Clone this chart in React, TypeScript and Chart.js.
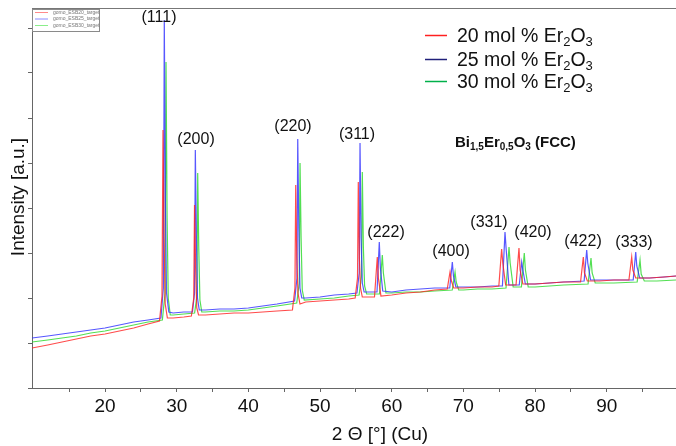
import React, { useEffect, useRef } from "react";
import { Chart, registerables } from "chart.js";

Chart.register(...registerables);

const FONT = '"Liberation Sans", Arial, Helvetica, sans-serif';

// Axis ranges (2θ in degrees, intensity in arbitrary units)
const X_MIN = 9.81;
const X_MAX = 99.67;
const Y_MIN = 0;
const Y_MAX = 380;
const xTickValues = [15, 20, 25, 30, 35, 40, 45, 50, 55, 60, 65, 70, 75, 80, 85, 90, 95];
const xTickLabels = ["", "20", "", "30", "", "40", "", "50", "", "60", "", "70", "", "80", "", "90", ""];
const yTickValues = [0, 45, 90, 135, 180, 225, 270, 315, 360];

const seriesLabels = ["20 mol % Er", "25 mol % Er", "30 mol % Er"];
const fileNames = ["gomo_ESB20_target", "gomo_ESB25_target", "gomo_ESB30_target"];
const lineColors = ["rgba(255,30,30,0.8)", "rgba(45,45,255,0.8)", "rgba(40,215,40,0.8)"];
const legendColors = ["#ff2020", "#20207a", "#00b04a"];
const fileLegendColors = ["#ff8a8a", "#8a8aff", "#8aee8a"];

// 20 mol % Er2O3  [2θ, intensity]
const xrd20: [number, number][] = [
  [9.81, 40], [12, 43], [14, 46], [16, 49], [18, 52], [20, 54], [22, 57], [24, 60], [26, 64], [27.6, 67],
  [27.95, 92], [28.09, 258], [28.24, 150], [28.4, 84], [28.7, 70], [29.5, 70], [31, 71], [32.05, 72],
  [32.38, 90], [32.49, 183], [32.64, 120], [32.8, 80], [33.05, 73], [34, 73], [36, 74], [38, 75], [40, 75], [42, 76], [44, 77], [46.15, 78],
  [46.5, 100], [46.61, 203], [46.76, 130], [46.92, 95], [47.2, 84], [48, 86], [50, 87], [52, 88], [54, 89], [54.9, 90],
  [55.23, 110], [55.34, 206], [55.49, 130], [55.65, 100], [55.9, 91], [57, 91], [57.6, 91],
  [57.99, 131], [58.14, 110], [58.5, 92], [60, 93], [62, 95], [64, 96], [66, 98], [67.75, 99],
  [68.14, 116], [68.3, 108], [68.65, 100], [70, 100], [72, 101], [74, 101], [74.95, 102],
  [75.34, 139], [75.5, 125], [75.9, 103], [77.35, 103],
  [77.76, 140], [77.92, 118], [78.3, 104], [80, 104], [82, 105], [84, 106], [86.35, 106],
  [86.74, 131], [86.9, 115], [87.3, 107], [89, 107], [91, 108], [93.1, 108],
  [93.49, 131], [93.65, 118], [94.05, 110], [96, 110], [98, 111], [99.67, 112],
];

// 25 mol % Er2O3
const xrd25: [number, number][] = [
  [9.81, 50], [12, 52], [14, 54], [16, 56], [18, 58], [20, 60], [22, 63], [24, 66], [26, 68], [27.8, 70],
  [28.14, 100], [28.27, 368], [28.42, 190], [28.58, 95], [28.9, 76], [29.5, 75], [31, 76], [32.2, 76],
  [32.49, 95], [32.6, 238], [32.75, 150], [32.9, 90], [33.15, 78], [34, 78], [36, 79], [38, 79], [40, 80], [42, 82], [44, 84], [46.45, 87],
  [46.78, 110], [46.89, 249], [47.04, 160], [47.2, 100], [47.45, 90], [48, 90], [50, 91], [52, 93], [54, 94], [55.15, 95],
  [55.47, 115], [55.58, 245], [55.73, 150], [55.9, 105], [56.15, 96], [57, 96], [57.95, 96],
  [58.27, 146], [58.42, 120], [58.75, 97], [60, 96], [62, 98], [64, 99], [66, 100], [68.1, 100],
  [68.46, 126], [68.62, 112], [68.95, 101], [70, 101], [72, 101], [74, 102], [75.45, 102],
  [75.81, 156], [75.96, 140], [76.35, 103], [77.8, 103],
  [78.14, 126], [78.3, 118], [78.65, 104], [80, 104], [82, 105], [84, 106], [86.85, 107],
  [87.21, 138], [87.36, 125], [87.75, 108], [89, 108], [91, 108], [93.7, 108],
  [94.05, 136], [94.2, 122], [94.6, 110], [96, 110], [98, 111], [99.67, 112],
];

// 30 mol % Er2O3
const xrd30: [number, number][] = [
  [9.81, 46], [12, 48], [14, 50], [16, 52], [18, 55], [20, 57], [22, 60], [24, 63], [26, 66], [28.0, 68],
  [28.38, 95], [28.51, 326], [28.66, 170], [28.82, 90], [29.1, 73], [29.5, 73], [31, 74], [32.5, 75],
  [32.82, 92], [32.93, 215], [33.08, 140], [33.24, 88], [33.5, 76], [34, 76], [36, 77], [38, 77], [40, 78], [42, 80], [44, 82], [46.75, 85],
  [47.1, 105], [47.21, 225], [47.36, 150], [47.52, 98], [47.8, 88], [50, 89], [52, 90], [54, 92], [55.45, 93],
  [55.79, 112], [55.9, 216], [56.05, 140], [56.22, 102], [56.5, 94], [58.3, 94],
  [58.69, 133], [58.84, 115], [59.2, 95], [60, 95], [62, 96], [64, 96], [66, 97], [68.45, 98],
  [68.84, 116], [69.0, 106], [69.35, 98], [70, 98], [72, 99], [74, 99], [75.95, 100],
  [76.37, 141], [76.53, 125], [76.95, 101], [78.1, 101],
  [78.5, 135], [78.66, 118], [79.05, 101], [80, 101], [82, 102], [84, 103], [87.4, 104],
  [87.81, 130], [87.97, 115], [88.4, 105], [89, 105], [91, 105], [94.25, 106],
  [94.65, 128], [94.81, 114], [95.25, 107], [97, 107], [99.67, 108],
];

// Peak (hkl) labels anchored in data coordinates
const peakLabels = ["(111)", "(200)", "(220)", "(311)", "(222)", "(400)", "(331)", "(420)", "(422)", "(333)"];
const peakLabelTheta = [27.53, 32.7, 46.23, 55.16, 59.21, 68.28, 73.58, 79.72, 86.7, 93.81];
const peakLabelIntensity = [370, 248, 261, 253, 155, 136, 165, 155, 146, 145];

type Part = { t: string; sub?: boolean };

function drawRich(ctx: CanvasRenderingContext2D, parts: Part[], x: number, baseline: number, size: number, subSize: number, weight: string) {
  let cx = x;
  ctx.textAlign = "left";
  ctx.textBaseline = "alphabetic";
  for (const p of parts) {
    ctx.font = `${weight} ${p.sub ? subSize : size}px ${FONT}`;
    ctx.fillText(p.t, cx, baseline + (p.sub ? size * 0.2 : 0));
    cx += ctx.measureText(p.t).width;
  }
}

const overlayPlugin = {
  id: "overlay",
  afterDraw(chart: any) {
    const { ctx, chartArea, scales } = chart;
    const xs = scales.x;
    const ys = scales.y;
    ctx.save();

    // top frame line
    ctx.strokeStyle = "#777";
    ctx.lineWidth = 1;
    ctx.beginPath();
    ctx.moveTo(chartArea.left, chartArea.top + 0.5);
    ctx.lineTo(chartArea.right, chartArea.top + 0.5);
    ctx.stroke();

    // peak labels
    ctx.fillStyle = "#111";
    ctx.font = `16px ${FONT}`;
    ctx.textAlign = "center";
    ctx.textBaseline = "middle";
    peakLabels.forEach((lab, i) => {
      ctx.fillText(lab, xs.getPixelForValue(peakLabelTheta[i]), ys.getPixelForValue(peakLabelIntensity[i]));
    });

    // axis titles
    ctx.fillStyle = "#111";
    ctx.font = `19px ${FONT}`;
    ctx.textAlign = "center";
    ctx.textBaseline = "middle";
    ctx.fillText("2 \u0398 [\u00b0] (Cu)", 380, 435);
    ctx.save();
    ctx.translate(19, 197);
    ctx.rotate(-Math.PI / 2);
    ctx.fillText("Intensity [a.u.]", 0, 0);
    ctx.restore();

    // main legend
    seriesLabels.forEach((lab, i) => {
      const cy = [35, 59, 81][i];
      ctx.strokeStyle = legendColors[i];
      ctx.lineWidth = 1.5;
      ctx.beginPath();
      ctx.moveTo(425, cy + 0.5);
      ctx.lineTo(447, cy + 0.5);
      ctx.stroke();
      ctx.fillStyle = "#111";
      drawRich(ctx, [{ t: lab }, { t: "2", sub: true }, { t: "O" }, { t: "3", sub: true }], 457, cy + 7, 19.5, 13, "normal");
    });

    // phase annotation
    ctx.fillStyle = "#111";
    drawRich(
      ctx,
      [{ t: "Bi" }, { t: "1,5", sub: true }, { t: "Er" }, { t: "0,5", sub: true }, { t: "O" }, { t: "3", sub: true }, { t: " (FCC)" }],
      455, 147, 15, 10, "bold"
    );

    // small file legend box
    ctx.fillStyle = "#fff";
    ctx.fillRect(32.5, 9.5, 67, 22);
    ctx.strokeStyle = "#8a8a8a";
    ctx.lineWidth = 1;
    ctx.strokeRect(32.5, 9.5, 67, 22);
    fileNames.forEach((fn, i) => {
      const cy = [12.5, 19, 25.5][i];
      ctx.strokeStyle = fileLegendColors[i];
      ctx.beginPath();
      ctx.moveTo(35, cy);
      ctx.lineTo(48, cy);
      ctx.stroke();
      ctx.fillStyle = "#777";
      ctx.font = `5px ${FONT}`;
      ctx.textAlign = "left";
      ctx.textBaseline = "middle";
      ctx.fillText(fn, 53, cy);
    });

    ctx.restore();
  },
};

export default function App() {
  const canvasRef = useRef<HTMLCanvasElement | null>(null);

  useEffect(() => {
    const canvas = canvasRef.current;
    if (!canvas) return;
    const toXY = (arr: [number, number][]) => arr.map(([x, y]) => ({ x, y }));
    const chart = new Chart(canvas, {
      type: "line",
      data: {
        datasets: [
          { label: "20", data: toXY(xrd20), borderColor: lineColors[0], borderWidth: 1.2, pointRadius: 0, tension: 0, fill: false },
          { label: "25", data: toXY(xrd25), borderColor: lineColors[1], borderWidth: 1.2, pointRadius: 0, tension: 0, fill: false },
          { label: "30", data: toXY(xrd30), borderColor: lineColors[2], borderWidth: 1.2, pointRadius: 0, tension: 0, fill: false },
        ],
      },
      options: {
        responsive: false,
        animation: false,
        events: [],
        layout: { padding: { top: 8, left: 0, right: 0, bottom: 0 } },
        plugins: { legend: { display: false }, tooltip: { enabled: false }, title: { display: false } },
        scales: {
          x: {
            type: "linear",
            min: X_MIN,
            max: X_MAX,
            afterBuildTicks: (scale: any) => {
              scale.ticks = xTickValues.map((v) => ({ value: v }));
            },
            afterFit: (scale: any) => {
              scale.height = 58;
            },
            ticks: {
              autoSkip: false,
              maxRotation: 0,
              minRotation: 0,
              padding: 3,
              color: "#111",
              font: { family: FONT, size: 19 },
              callback: (v: any) => {
                const idx = xTickValues.indexOf(Number(v));
                return idx >= 0 ? xTickLabels[idx] : "";
              },
            },
            grid: { drawOnChartArea: false, drawTicks: true, tickLength: 4, color: "#666" },
            border: { display: true, color: "#666", width: 1 },
          },
          y: {
            type: "linear",
            min: Y_MIN,
            max: Y_MAX,
            afterBuildTicks: (scale: any) => {
              scale.ticks = yTickValues.map((v) => ({ value: v }));
            },
            afterFit: (scale: any) => {
              scale.width = 32;
            },
            ticks: { display: false },
            grid: { drawOnChartArea: false, drawTicks: true, tickLength: 4, color: "#666" },
            border: { display: true, color: "#666", width: 1 },
          },
        },
      },
      plugins: [overlayPlugin],
    });
    return () => chart.destroy();
  }, []);

  return (
    <div style={{ position: "absolute", left: 0, top: 0, width: 676, height: 446, background: "#fff" }}>
      <canvas ref={canvasRef} width={676} height={446} style={{ display: "block" }} />
    </div>
  );
}
